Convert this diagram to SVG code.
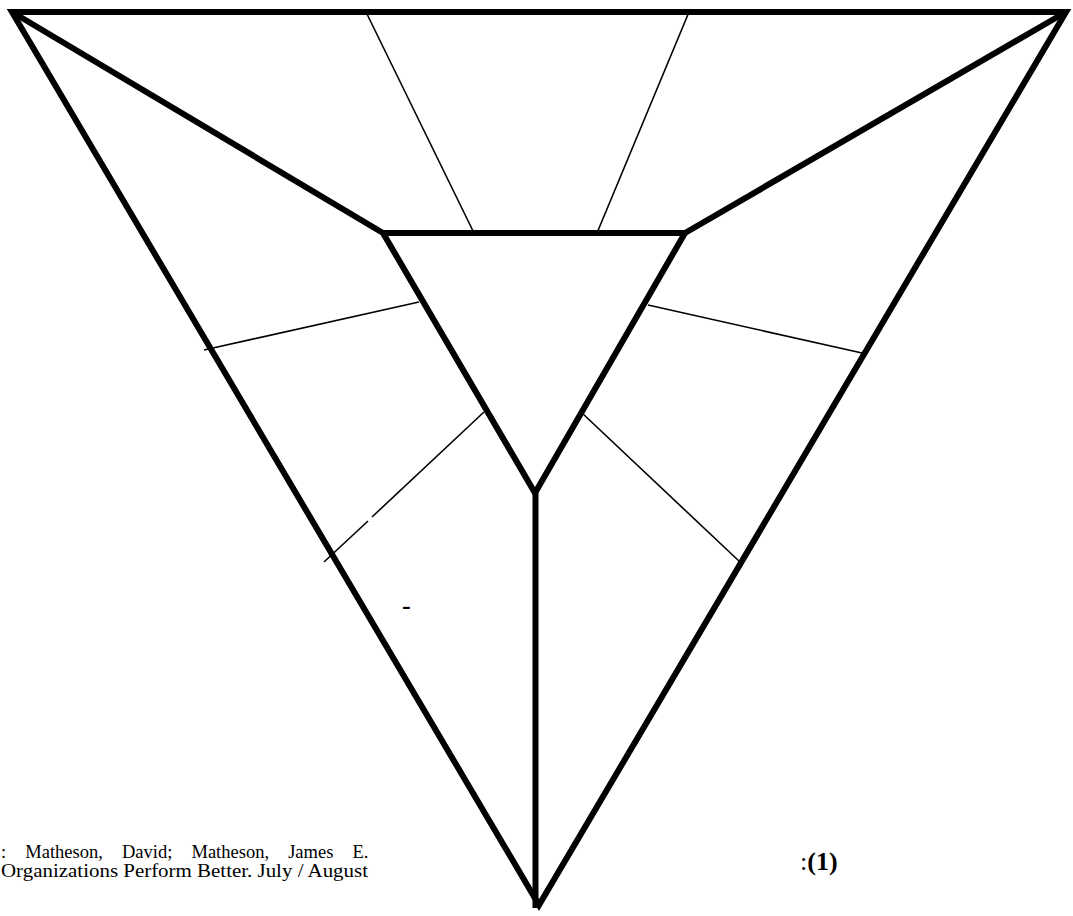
<svg xmlns="http://www.w3.org/2000/svg" width="1073" height="916" viewBox="0 0 1073 916">
<style>
.thick{fill:none;stroke:#000;stroke-width:6;stroke-linejoin:miter;stroke-miterlimit:10}
.thin{fill:none;stroke:#000;stroke-width:1.6}
.cap{font-family:"Liberation Serif","Times New Roman",serif;font-size:18.5px;fill:#000}
.num{font-family:"Liberation Serif","Times New Roman",serif;font-size:26px;fill:#000}
</style>
<rect width="1073" height="916" fill="#fff"/>
<g id="connectors">
<line class="thin" x1="366" y1="12" x2="474" y2="233"/>
<line class="thin" x1="689" y1="12" x2="597" y2="233"/>
<line class="thin" x1="204" y1="350" x2="419" y2="302"/>
<line class="thin" x1="484" y1="412" x2="372" y2="517"/>
<line class="thin" x1="368" y1="521" x2="324" y2="562"/>
<line class="thin" x1="648" y1="305" x2="862" y2="353"/>
<line class="thin" x1="582" y1="413" x2="740" y2="562"/>
<line class="thick" x1="12" y1="12" x2="383" y2="233"/>
<line class="thick" x1="1066" y1="12" x2="685" y2="233"/>
<line class="thick" x1="535.5" y1="493" x2="535.5" y2="908"/>
</g>
<g id="outer">
<polygon class="thick" points="12,12 1066,12 539,905"/>
</g>
<g id="inner">
<polygon class="thick" points="383,233 685,233 535,493"/>
</g>
<g id="dash">
<text class="num" x="402" y="614" font-weight="bold">-</text>
</g>
<g id="caption">
<text class="cap" x="1" y="858" word-spacing="14.5">: Matheson, David; Matheson, James E.</text>
<text class="cap" x="1" y="877" textLength="367" lengthAdjust="spacingAndGlyphs">Organizations Perform Better.  July / August</text>
</g>
<g id="label">
<text class="num" x="800" y="870">:<tspan font-weight="bold">(1)</tspan></text>
</g>
</svg>
